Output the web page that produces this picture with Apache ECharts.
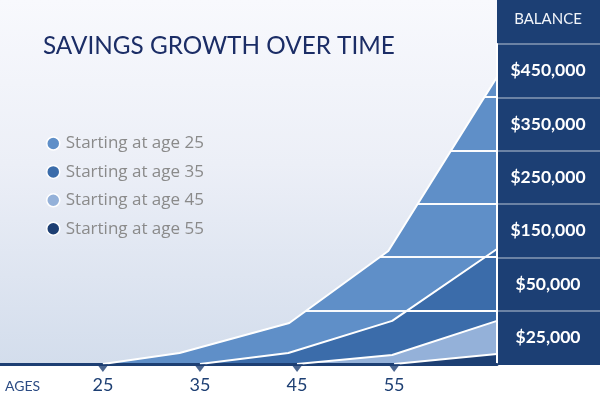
<!DOCTYPE html>
<html>
<head>
<meta charset="utf-8">
<script src="https://cdn.jsdelivr.net/npm/echarts@6/dist/echarts.min.js"></script>
<style>
  html, body { margin: 0; padding: 0; background: #ffffff; }
  #main { width: 600px; height: 400px; }
</style>
</head>
<body>
<div id="main"></div>
<script>
// ---- Data ----
const titleText = 'SAVINGS GROWTH OVER TIME';
const seriesNames = ['Starting at age 25', 'Starting at age 35', 'Starting at age 45', 'Starting at age 55'];
const ageTicks = [25, 35, 45, 55];
const balanceTicks = [25000, 50000, 150000, 250000, 350000, 450000];
// [age, balance in $]
const start25 = [[25, 0], [32.9, 10300], [44.2, 31700], [54.4, 111900], [65.6, 438000]];
const start35 = [[35, 0], [44.1, 10300], [54.8, 32700], [65.6, 115600]];
const start45 = [[45, 0], [54.8, 8400], [65.6, 32700]];
const start55 = [[55, 0], [65.6, 9400]];

// ---- Styling ----
const FONT = 'Lato';
const LEGEND_FONT = 'Open Sans';
const NAVY = '#1c3f74';
const areaColors = ['#5f8fc8', '#3b6caa', '#94b1d9', '#1d3f73'];
const STRIPE = 'rgba(255,255,255,0.82)';

// Balance axis: evenly spaced bands, each labelled at its centre
const balanceLabels = balanceTicks.map(v => '$' + v.toLocaleString('en-US'));
function toBand(v) {
  const knotsV = [0].concat(balanceTicks);
  const knotsU = [0].concat(balanceTicks.map((_, i) => i + 0.5));
  for (let i = 1; i < knotsV.length; i++) {
    if (v <= knotsV[i]) {
      const t = (v - knotsV[i - 1]) / (knotsV[i] - knotsV[i - 1]);
      return knotsU[i - 1] + t * (knotsU[i] - knotsU[i - 1]);
    }
  }
  const n = knotsV.length - 1;
  return knotsU[n] + (v - knotsV[n]) / (knotsV[n] - knotsV[n - 1]) * (knotsU[n] - knotsU[n - 1]);
}
const allSeries = [start25, start35, start45, start55];

const chart = echarts.init(document.getElementById('main'), null, { renderer: 'canvas' });

const option = {
  animation: false,
  backgroundColor: '#ffffff',
  textStyle: { fontFamily: FONT },
  graphic: [
    {
      type: 'rect', z: -10, silent: true,
      shape: { x: 0, y: 0, width: 497, height: 364 },
      style: {
        fill: {
          type: 'linear', x: 0, y: 0, x2: 0, y2: 1,
          colorStops: [
            { offset: 0, color: '#f8f9fd' },
            { offset: 0.45, color: '#eceff7' },
            { offset: 1, color: '#d3ddec' }
          ]
        }
      }
    },
    {
      type: 'rect', z: -10, silent: true,
      shape: { x: 497, y: 0, width: 103, height: 365 },
      style: { fill: NAVY }
    }
  ],
  title: [
    {
      text: titleText, left: 43, top: 34, padding: 0,
      textStyle: { fontFamily: FONT, fontSize: 24.3, fontWeight: 'normal', color: '#1b2d66' }
    },
    {
      text: 'AGES', left: 5, top: 379, padding: 0,
      textStyle: { fontFamily: FONT, fontSize: 14, fontWeight: 'normal', color: '#2c4c84' }
    },
    {
      text: 'BALANCE', left: 548, textAlign: 'center', top: 12, padding: 0,
      textStyle: { fontFamily: FONT, fontSize: 15, fontWeight: 'normal', color: '#f2f5fa' }
    }
  ],
  legend: {
    orient: 'vertical', left: 46, top: 135, padding: 0,
    itemWidth: 13, itemHeight: 13, itemGap: 11.4,
    icon: 'circle',
    itemStyle: { borderColor: '#ffffff', borderWidth: 1.5 },
    textStyle: { fontFamily: LEGEND_FONT, fontSize: 17, lineHeight: 16, color: '#8a8a8a', padding: [0, 0, 0, 1] },
    data: seriesNames.map((n, i) => ({ name: n, itemStyle: { color: areaColors[i] } }))
  },
  grid: [
    { left: 0, right: 103, top: 44, bottom: 36 },
    { left: 497, right: 0, top: 44, bottom: 36 }
  ],
  xAxis: [
    {
      gridIndex: 0, type: 'value', min: 14.4, max: 65.6, z: 3,
      axisLine: { show: true, onZero: false, lineStyle: { color: '#1d3f73', width: 3 } },
      axisTick: { show: false },
      splitLine: { show: false },
      axisLabel: {
        customValues: ageTicks, showMinLabel: true, showMaxLabel: true,
        color: '#1d3f73', fontFamily: FONT, fontSize: 18, margin: 12
      }
    },
    { gridIndex: 1, type: 'value', show: false }
  ],
  yAxis: [
    {
      gridIndex: 0, type: 'value', min: 0, max: 6, interval: 1, position: 'right', z: 3,
      axisLine: { show: true, lineStyle: { color: '#ffffff', width: 2 } },
      axisTick: { show: false },
      axisLabel: { show: false },
      splitLine: { show: false }
    },
    {
      gridIndex: 1, type: 'category', data: balanceLabels, position: 'left',
      axisLine: { show: false }, axisTick: { show: false },
      splitLine: { show: true, showMinLine: false, lineStyle: { color: 'rgba(255,255,255,0.35)', width: 2 } },
      axisLabel: {
        inside: true, align: 'center', margin: 51,
        color: '#ffffff', fontFamily: FONT, fontSize: 17.5, fontWeight: 'bold'
      }
    }
  ],
  series: allSeries.map((d, i) => ({
    name: seriesNames[i],
    type: 'line',
    xAxisIndex: 0, yAxisIndex: 0,
    data: d.map(p => [p[0], toBand(p[1])]),
    showSymbol: false,
    symbol: 'none',
    silent: true,
    itemStyle: { color: areaColors[i] },
    lineStyle: { color: '#ffffff', width: 2 },
    areaStyle: { color: areaColors[i], opacity: 1 }
  })).concat([{
    name: 'ticks',
    type: 'scatter',
    xAxisIndex: 0, yAxisIndex: 0,
    data: ageTicks.map(a => [a, 0]),
    symbol: 'triangle', symbolRotate: 180,
    symbolSize: [12, 8], symbolOffset: [0, 4],
    itemStyle: { color: '#1d3f73' },
    clip: false, silent: true, z: 5
  }])
};

chart.setOption(option);

// White band lines that show only inside the filled areas
const yTop = chart.convertToPixel({ yAxisIndex: 0 }, 6);
const yBot = chart.convertToPixel({ yAxisIndex: 0 }, 0);
function striped(color) {
  const h = yBot - yTop;
  const d = 1 / h;
  const stops = [{ offset: 0, color: color }];
  for (let k = 5; k >= 1; k--) {
    const f = (chart.convertToPixel({ yAxisIndex: 0 }, k) - yTop) / h;
    stops.push({ offset: f - d, color: color }, { offset: f - d, color: STRIPE },
               { offset: f + d, color: STRIPE }, { offset: f + d, color: color });
  }
  stops.push({ offset: 1, color: color });
  return { type: 'linear', x: 0, y: yTop, x2: 0, y2: yBot, global: true, colorStops: stops };
}
chart.setOption({
  series: areaColors.map(c => ({ areaStyle: { color: striped(c), opacity: 1 } }))
});
</script>
</body>
</html>
